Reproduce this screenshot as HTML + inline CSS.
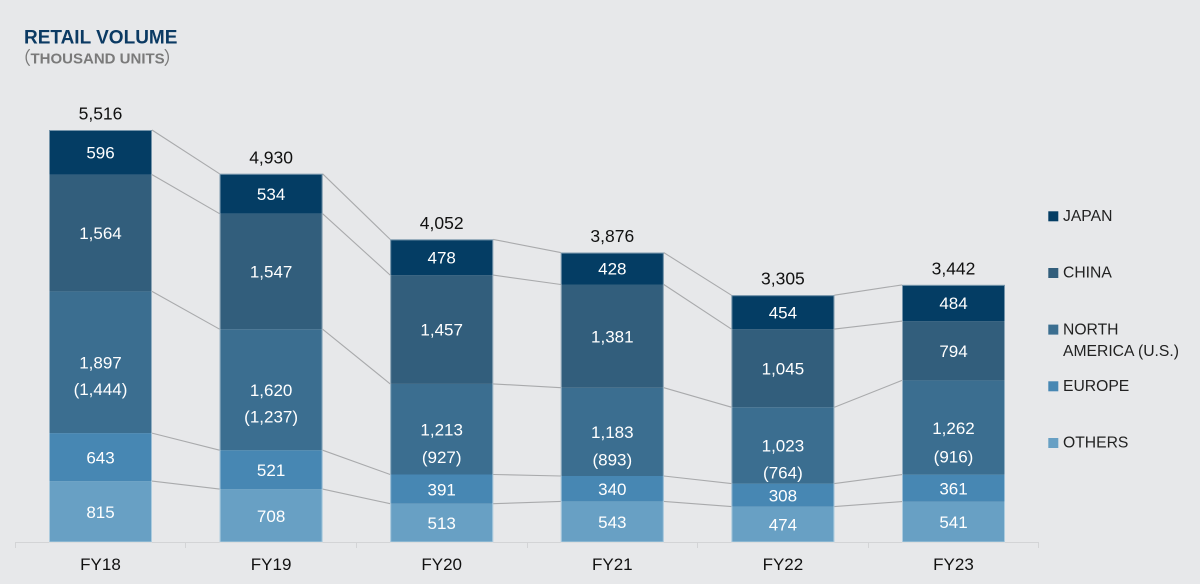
<!DOCTYPE html>
<html>
<head>
<meta charset="utf-8">
<style>
html,body{margin:0;padding:0;background:#e7e8ea;}
svg{display:block;}
text{font-family:"Liberation Sans","Noto Sans CJK JP",sans-serif;}
</style>
</head>
<body>
<svg width="1200" height="584" viewBox="0 0 1200 584" xmlns="http://www.w3.org/2000/svg">
<rect x="0" y="0" width="1200" height="584" fill="#e7e8ea"/>

<!-- Title -->
<text x="24" y="43.3" font-size="19" font-weight="bold" fill="#0b3a63">RETAIL VOLUME</text>
<text y="63.3" font-size="15" font-weight="bold" fill="#7a7a7a"><tspan x="13" y="64.5" font-size="18" font-family="Noto Sans CJK JP, sans-serif" font-weight="normal">（</tspan><tspan x="30.5" y="63.3">THOUSAND UNITS</tspan><tspan x="163.5" y="64.5" font-size="18" font-family="Noto Sans CJK JP, sans-serif" font-weight="normal">）</tspan></text>

<!-- Axis -->
<g stroke="#d3d4d6" stroke-width="1">
<line x1="15" y1="542.5" x2="1039" y2="542.5"/>
<line x1="15.5" y1="542" x2="15.5" y2="548"/>
<line x1="185.5" y1="542" x2="185.5" y2="548"/>
<line x1="356.5" y1="542" x2="356.5" y2="548"/>
<line x1="527.5" y1="542" x2="527.5" y2="548"/>
<line x1="697.5" y1="542" x2="697.5" y2="548"/>
<line x1="868.5" y1="542" x2="868.5" y2="548"/>
<line x1="1038.5" y1="542" x2="1038.5" y2="548"/>
</g>

<!-- Connector lines -->
<g stroke="#a9aaac" stroke-width="1.1" fill="none">
<line x1="152" y1="130" x2="219.6" y2="173.8"/>
<line x1="152" y1="174.6" x2="219.6" y2="213.7"/>
<line x1="152" y1="291.4" x2="219.6" y2="329.2"/>
<line x1="152" y1="433.1" x2="219.6" y2="450.2"/>
<line x1="152" y1="481.1" x2="219.6" y2="489.1"/>
<line x1="322.6" y1="173.8" x2="390.2" y2="239.4"/>
<line x1="322.6" y1="213.7" x2="390.2" y2="275.1"/>
<line x1="322.6" y1="329.2" x2="390.2" y2="383.9"/>
<line x1="322.6" y1="450.2" x2="390.2" y2="474.5"/>
<line x1="322.6" y1="489.1" x2="390.2" y2="503.7"/>
<line x1="493.2" y1="239.4" x2="560.8" y2="252.6"/>
<line x1="493.2" y1="275.1" x2="560.8" y2="284.5"/>
<line x1="493.2" y1="383.9" x2="560.8" y2="387.7"/>
<line x1="493.2" y1="474.5" x2="560.8" y2="476.0"/>
<line x1="493.2" y1="503.7" x2="560.8" y2="501.4"/>
<line x1="663.8" y1="252.6" x2="731.4" y2="295.2"/>
<line x1="663.8" y1="284.5" x2="731.4" y2="329.1"/>
<line x1="663.8" y1="387.7" x2="731.4" y2="407.2"/>
<line x1="663.8" y1="476.0" x2="731.4" y2="483.6"/>
<line x1="663.8" y1="501.4" x2="731.4" y2="506.6"/>
<line x1="834.4" y1="295.2" x2="902" y2="284.9"/>
<line x1="834.4" y1="329.1" x2="902" y2="321.1"/>
<line x1="834.4" y1="407.2" x2="902" y2="380.4"/>
<line x1="834.4" y1="483.6" x2="902" y2="474.6"/>
<line x1="834.4" y1="506.6" x2="902" y2="501.6"/>
</g>

<!-- Bars -->
<g>
<rect x="49" y="481.1" width="103" height="60.9" fill="#68a0c4"/>
<rect x="49" y="433.1" width="103" height="48.0" fill="#4787b3"/>
<rect x="49" y="291.4" width="103" height="141.7" fill="#3b6e90"/>
<rect x="49" y="174.6" width="103" height="116.8" fill="#325e7c"/>
<rect x="49" y="130" width="103" height="44.6" fill="#043d64"/>
<rect x="49.5" y="130.5" width="102" height="411.5" fill="none" stroke="#ffffff" stroke-opacity="0.45" stroke-width="1"/>
</g>
<g>
<rect x="219.6" y="489.1" width="103" height="52.9" fill="#68a0c4"/>
<rect x="219.6" y="450.2" width="103" height="38.9" fill="#4787b3"/>
<rect x="219.6" y="329.2" width="103" height="121.0" fill="#3b6e90"/>
<rect x="219.6" y="213.7" width="103" height="115.5" fill="#325e7c"/>
<rect x="219.6" y="173.8" width="103" height="39.9" fill="#043d64"/>
<rect x="220.1" y="174.3" width="102" height="367.7" fill="none" stroke="#ffffff" stroke-opacity="0.45" stroke-width="1"/>
</g>
<g>
<rect x="390.2" y="503.7" width="103" height="38.3" fill="#68a0c4"/>
<rect x="390.2" y="474.5" width="103" height="29.2" fill="#4787b3"/>
<rect x="390.2" y="383.9" width="103" height="90.6" fill="#3b6e90"/>
<rect x="390.2" y="275.1" width="103" height="108.8" fill="#325e7c"/>
<rect x="390.2" y="239.4" width="103" height="35.7" fill="#043d64"/>
<rect x="390.7" y="239.9" width="102" height="302.1" fill="none" stroke="#ffffff" stroke-opacity="0.45" stroke-width="1"/>
</g>
<g>
<rect x="560.8" y="501.4" width="103" height="40.6" fill="#68a0c4"/>
<rect x="560.8" y="476.0" width="103" height="25.4" fill="#4787b3"/>
<rect x="560.8" y="387.7" width="103" height="88.3" fill="#3b6e90"/>
<rect x="560.8" y="284.5" width="103" height="103.2" fill="#325e7c"/>
<rect x="560.8" y="252.6" width="103" height="31.9" fill="#043d64"/>
<rect x="561.3" y="253.1" width="102" height="288.9" fill="none" stroke="#ffffff" stroke-opacity="0.45" stroke-width="1"/>
</g>
<g>
<rect x="731.4" y="506.6" width="103" height="35.4" fill="#68a0c4"/>
<rect x="731.4" y="483.6" width="103" height="23.0" fill="#4787b3"/>
<rect x="731.4" y="407.2" width="103" height="76.4" fill="#3b6e90"/>
<rect x="731.4" y="329.1" width="103" height="78.1" fill="#325e7c"/>
<rect x="731.4" y="295.2" width="103" height="33.9" fill="#043d64"/>
<rect x="731.9" y="295.7" width="102" height="246.3" fill="none" stroke="#ffffff" stroke-opacity="0.45" stroke-width="1"/>
</g>
<g>
<rect x="902" y="501.6" width="103" height="40.4" fill="#68a0c4"/>
<rect x="902" y="474.6" width="103" height="27.0" fill="#4787b3"/>
<rect x="902" y="380.4" width="103" height="94.2" fill="#3b6e90"/>
<rect x="902" y="321.1" width="103" height="59.3" fill="#325e7c"/>
<rect x="902" y="284.9" width="103" height="36.2" fill="#043d64"/>
<rect x="902.5" y="285.4" width="102" height="256.6" fill="none" stroke="#ffffff" stroke-opacity="0.45" stroke-width="1"/>
</g>

<!-- Value labels -->
<g font-size="17" fill="#ffffff" text-anchor="middle">
<text x="100.5" y="158.4">596</text>
<text x="100.5" y="239.2">1,564</text>
<text x="100.5" y="368.5">1,897</text>
<text x="100.5" y="395.2">(1,444)</text>
<text x="100.5" y="463.3">643</text>
<text x="100.5" y="517.8">815</text>
<text x="271.1" y="199.9">534</text>
<text x="271.1" y="277.6">1,547</text>
<text x="271.1" y="395.9">1,620</text>
<text x="271.1" y="422.6">(1,237)</text>
<text x="271.1" y="475.9">521</text>
<text x="271.1" y="521.8">708</text>
<text x="441.7" y="263.4">478</text>
<text x="441.7" y="335.7">1,457</text>
<text x="441.7" y="435.4">1,213</text>
<text x="441.7" y="462.9">(927)</text>
<text x="441.7" y="495.3">391</text>
<text x="441.7" y="529.0">513</text>
<text x="612.3" y="274.7">428</text>
<text x="612.3" y="342.3">1,381</text>
<text x="612.3" y="438.1">1,183</text>
<text x="612.3" y="465.6">(893)</text>
<text x="612.3" y="494.9">340</text>
<text x="612.3" y="527.9">543</text>
<text x="782.9" y="318.4">454</text>
<text x="782.9" y="374.4">1,045</text>
<text x="782.9" y="451.6">1,023</text>
<text x="782.9" y="478.6">(764)</text>
<text x="782.9" y="501.3">308</text>
<text x="782.9" y="530.5">474</text>
<text x="953.5" y="309.2">484</text>
<text x="953.5" y="356.9">794</text>
<text x="953.5" y="433.9">1,262</text>
<text x="953.5" y="462.6">(916)</text>
<text x="953.5" y="494.3">361</text>
<text x="953.5" y="528.0">541</text>
</g>

<!-- Totals -->
<g font-size="17.5" fill="#111111" text-anchor="middle">
<text x="100.5" y="119.4">5,516</text>
<text x="271.1" y="163.3">4,930</text>
<text x="441.7" y="228.9">4,052</text>
<text x="612.3" y="242.1">3,876</text>
<text x="782.9" y="284.7">3,305</text>
<text x="953.5" y="274.4">3,442</text>
</g>

<!-- Category labels -->
<g font-size="17" fill="#111111" text-anchor="middle">
<text x="100.5" y="570">FY18</text>
<text x="271.1" y="570">FY19</text>
<text x="441.7" y="570">FY20</text>
<text x="612.3" y="570">FY21</text>
<text x="782.9" y="570">FY22</text>
<text x="953.5" y="570">FY23</text>
</g>

<!-- Legend -->
<g>
<rect x="1048.3" y="211.3" width="10" height="10" fill="#043d64"/>
<rect x="1048.3" y="268" width="10" height="10" fill="#325e7c"/>
<rect x="1048.3" y="324.6" width="10" height="10" fill="#3b6e90"/>
<rect x="1048.3" y="381.3" width="10" height="10" fill="#4787b3"/>
<rect x="1048.3" y="438" width="10" height="10" fill="#68a0c4"/>
</g>
<g font-size="15.7" fill="#222222">
<text x="1063" y="221">JAPAN</text>
<text x="1063" y="277.7">CHINA</text>
<text x="1063" y="334.3">NORTH</text>
<text x="1063" y="356">AMERICA (U.S.)</text>
<text x="1063" y="391">EUROPE</text>
<text x="1063" y="447.7">OTHERS</text>
</g>
</svg>
</body>
</html>
